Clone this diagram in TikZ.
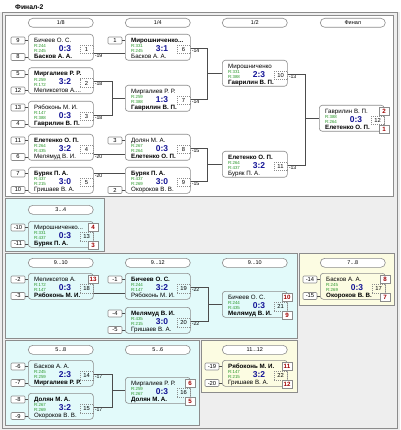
\documentclass[tikz,border=0pt]{standalone}
\usepackage{fontspec}
\setmainfont{Liberation Sans}
\definecolor{bggray}{RGB}{238,238,238}
\definecolor{framegray}{RGB}{140,140,140}
\definecolor{sectcyan}{RGB}{226,250,250}
\definecolor{sectyellow}{RGB}{252,252,226}
\definecolor{scoreblue}{RGB}{20,20,150}
\definecolor{ratinggreen}{RGB}{40,150,40}
\definecolor{placered}{RGB}{160,0,0}
\tikzset{section/.style={draw=framegray, line width=0.7pt}}
\tikzset{matchbox/.style={draw=framegray, line width=0.6pt, rounded corners=3pt, minimum width=65pt, minimum height=26pt, inner sep=0pt, anchor=north west}}
\tikzset{stagepill/.style={draw=framegray, fill=white, line width=0.6pt, rounded corners=4.5pt, minimum width=65pt, minimum height=9pt, inner sep=0pt, anchor=north west, font=\fontsize{5.5}{6}\selectfont}}
\tikzset{pname/.style={anchor=west, inner sep=0pt, font=\fontsize{6.2}{7}\selectfont}}
\tikzset{rating/.style={anchor=west, inner sep=0pt, text=ratinggreen, font=\fontsize{4.4}{5}\selectfont}}
\tikzset{score/.style={inner sep=0pt, text=scoreblue, font=\fontsize{8.5}{9}\selectfont\bfseries}}
\tikzset{numbox/.style={draw=framegray, dash pattern=on 1pt off 1pt, line width=0.5pt, minimum width=13pt, minimum height=8.5pt, inner sep=0pt, font=\fontsize{5.8}{6}\selectfont}}
\tikzset{seedbox/.style={draw=framegray, fill=white, line width=0.6pt, rounded corners=1pt, minimum width=14pt, minimum height=7pt, inner sep=0pt, font=\fontsize{5.8}{6}\selectfont}}
\tikzset{placebox/.style={draw=framegray, fill=white, line width=0.6pt, minimum width=10pt, minimum height=7.5pt, inner sep=0pt, text=placered, font=\fontsize{6.2}{7}\selectfont\bfseries}}
\tikzset{losslbl/.style={anchor=north west, inner sep=0pt, font=\fontsize{5.2}{6}\selectfont}}
\tikzset{link/.style={draw=black!70, line width=0.6pt}}

% game: name, x, y, player 1, rating 1, rating 2, score, player 2, number
\newcommand{\game}[9]{%
  \node[matchbox] (#1) at (#2,#3) {};
  \node[pname] (#1-a) at ([shift={(6,6.6)}]#1.north west) {#4};
  \node[rating] (#1-ra) at ([shift={(6,12.2)}]#1.north west) {R:#5};
  \node[rating] (#1-rb) at ([shift={(6,17.4)}]#1.north west) {R:#6};
  \node[score] (#1-s) at ([shift={(37,14.5)}]#1.north west) {#7};
  \node[pname] (#1-b) at ([shift={(6,22.6)}]#1.north west) {#8};
  \node[numbox] (#1-n) at ([shift={(58.5,15.5)}]#1.north west) {#9};
}
\newcommand{\seed}[4]{%
  \node[seedbox] (#1) at ([shift={(-10,#3)}]#2.north west) {#4};
  \draw[link] (#1.east) -- (#1.east -| #2.west);
}
\newcommand{\place}[4]{%
  \node[placebox] (#1) at ([shift={(65,#3)}]#2.north west) {#4};
}
\newcommand{\loss}[3]{%
  \coordinate (#1-o) at ([yshift=-#3pt]#1.north east);
  \node[losslbl] (#1-l) at ([xshift=1pt,yshift=-0.5pt]#1-o) {#2};
}

\begin{document}
\begin{tikzpicture}[x=1pt,y=-1pt]
\useasboundingbox (0,0) rectangle (400,430);
\fill[bggray] (0,0) rectangle (400,430);
\fill[white] (0,0) rectangle (400,12);
\node[anchor=west, inner sep=0pt, font=\fontsize{6.8}{7}\selectfont\bfseries] (title) at (15,7) {Финал-2};
\draw[section] (2.5,12) rectangle (397.5,428);
% panels
\draw[section, fill=white] (5,15) rectangle (393,196);
\draw[section, fill=sectcyan] (5,198) rectangle (104,251);
\draw[section, fill=sectcyan] (5,253) rectangle (297,338);
\draw[section, fill=sectyellow] (299,253) rectangle (394,305);
\draw[section, fill=sectcyan] (5,340) rectangle (199,425);
\draw[section, fill=sectyellow] (201,340) rectangle (297,392);

\node[stagepill] (s18) at (28,18) {1/8};
\node[stagepill] (s14) at (125,18) {1/4};
\node[stagepill] (s12) at (222,18) {1/2};
\node[stagepill] (sfin) at (320,18) {Финал};
\node[stagepill] (s34) at (28,205) {3...4};
\node[stagepill] (s910a) at (28,258) {9...10};
\node[stagepill] (s912) at (125,258) {9...12};
\node[stagepill] (s910b) at (222,258) {9...10};
\node[stagepill] (s78) at (320,258) {7...8};
\node[stagepill] (s58) at (28,345) {5...8};
\node[stagepill] (s56) at (125,345) {5...6};
\node[stagepill] (s1112) at (222,345) {11...12};

% main bracket
\game{m1}{28}{34}{Бичеев О. С.}{244}{245}{0:3}{\textbf{Басков А. А.}}{1}
\game{m2}{28}{67.5}{\textbf{Миргалиев Р. Р.}}{259}{172}{3:2}{Меликсетов А....}{2}
\game{m3}{28}{101}{Рябоконь М. И.}{147}{388}{0:3}{\textbf{Гаврилин В. П.}}{3}
\game{m4}{28}{134}{\textbf{Елетенко О. П.}}{264}{435}{3:2}{Мелямуд В. И.}{4}
\game{m5}{28}{167}{\textbf{Буряк П. А.}}{437}{215}{3:0}{Гришаев В. А.}{5}
\game{m6}{125}{34}{\textbf{Мирошниченко...}}{331}{245}{3:1}{Басков А. А.}{6}
\game{m7}{125}{85}{Миргалиев Р. Р.}{259}{388}{1:3}{\textbf{Гаврилин В. П.}}{7}
\game{m8}{125}{134}{Долян М. А.}{267}{264}{0:3}{\textbf{Елетенко О. П.}}{8}
\game{m9}{125}{167}{\textbf{Буряк П. А.}}{437}{269}{3:0}{Окороков В. В.}{9}
\game{m10}{222}{60}{Мирошниченко}{331}{388}{2:3}{\textbf{Гаврилин В. П.}}{10}
\game{m11}{222}{151}{\textbf{Елетенко О. П.}}{264}{437}{3:2}{Буряк П. А.}{11}
\game{m12}{319}{105}{Гаврилин В. П.}{388}{264}{0:3}{\textbf{Елетенко О. П.}}{12}

\seed{k9}{m1}{6.5}{9}
\seed{k8}{m1}{23}{8}
\seed{k5}{m2}{6.5}{5}
\seed{k12}{m2}{23}{12}
\seed{k13}{m3}{6.5}{13}
\seed{k4}{m3}{23}{4}
\seed{k11}{m4}{6.5}{11}
\seed{k6}{m4}{23}{6}
\seed{k7}{m5}{6.5}{7}
\seed{k10}{m5}{23}{10}
\seed{k1}{m6}{6.5}{1}
\seed{k3}{m8}{6.5}{3}
\seed{k2}{m9}{23}{2}

\loss{m1}{-19}{19}
\loss{m2}{-18}{14}
\loss{m3}{-18}{14}
\loss{m4}{-20}{20.5}
\loss{m5}{-20}{6.5}
\loss{m6}{-14}{14}
\loss{m7}{-14}{14}
\loss{m8}{-15}{14}
\loss{m9}{-15}{14}
\loss{m10}{-13}{14}
\loss{m11}{-13}{14}

\draw[link] (m1-o) -- (m1-o -| m6.west);
\draw[link] (m4-o) -- (m4-o -| m8.west);
\draw[link] (m5-o) -- (m5-o -| m9.west);
\draw[link] (m2-o) -- ++(19,0) coordinate (j7) |- (m3-o);
\draw[link] (j7 |- m7.west) -- (m7.west);
\draw[link] (m6-o) -- ++(17,0) coordinate (j10) |- (m7-o);
\draw[link] (j10 |- m10.west) -- (m10.west);
\draw[link] (m8-o) -- ++(17,0) coordinate (j11) |- (m9-o);
\draw[link] (j11 |- m11.west) -- (m11.west);
\draw[link] (m10-o) -- ++(18,0) coordinate (j12) |- (m11-o);
\draw[link] (j12 |- m12.west) -- (m12.west);
\place{p2}{m12}{6.5}{2}
\place{p1}{m12}{24.5}{1}

% 3...4
\game{m13}{28}{221}{Мирошниченко...}{331}{437}{0:3}{\textbf{Буряк П. А.}}{13}
\seed{q10}{m13}{6.5}{-10}
\seed{q11}{m13}{23}{-11}
\place{p4}{m13}{6.5}{4}
\place{p3}{m13}{24.5}{3}

% 9...12
\game{m18}{28}{273}{Меликсетов А.}{172}{147}{0:3}{\textbf{Рябоконь М. И.}}{18}
\game{m19}{125}{273}{\textbf{Бичеев О. С.}}{244}{147}{3:2}{Рябоконь М. И.}{19}
\game{m20}{125}{307}{\textbf{Мелямуд В. И.}}{435}{215}{3:0}{Гришаев В. А.}{20}
\game{m21}{222}{291}{Бичеев О. С.}{244}{435}{0:3}{\textbf{Мелямуд В. И.}}{21}
\seed{q2}{m18}{6.5}{-2}
\seed{q3}{m18}{23}{-3}
\seed{q1}{m19}{6.5}{-1}
\seed{q4}{m20}{6.5}{-4}
\seed{q5}{m20}{23}{-5}
\place{p13}{m18}{6.5}{13}
\coordinate (m18-o) at ([yshift=-20pt]m18.north east);
\draw[link] (m18-o) -- (m18-o -| m19.west);
\loss{m19}{-22}{14}
\loss{m20}{-22}{14}
\draw[link] (m19-o) -- ++(18,0) coordinate (j21) |- (m20-o);
\draw[link] (j21 |- m21.west) -- (m21.west);
\place{p10}{m21}{6.5}{10}
\place{p9}{m21}{24.5}{9}

% 7...8
\game{m17}{320}{273}{Басков А. А.}{245}{269}{0:3}{\textbf{Окороков В. В.}}{17}
\seed{q14}{m17}{6.5}{-14}
\seed{q15}{m17}{23}{-15}
\place{p8}{m17}{6.5}{8}
\place{p7}{m17}{24.5}{7}

% 5...8
\game{m14}{28}{360}{Басков А. А.}{245}{259}{2:3}{\textbf{Миргалиев Р. Р.}}{14}
\game{m15}{28}{393}{\textbf{Долян М. А.}}{267}{269}{3:2}{Окороков В. В.}{15}
\game{m16}{125}{377}{Миргалиев Р. Р.}{259}{267}{0:3}{\textbf{Долян М. А.}}{16}
\seed{q6}{m14}{6.5}{-6}
\seed{q7}{m14}{23}{-7}
\seed{q8}{m15}{6.5}{-8}
\seed{q9}{m15}{23}{-9}
\loss{m14}{-17}{14}
\loss{m15}{-17}{14}
\draw[link] (m14-o) -- ++(19,0) coordinate (j16) |- (m15-o);
\draw[link] (j16 |- m16.west) -- (m16.west);
\place{p6}{m16}{6.5}{6}
\place{p5}{m16}{24.5}{5}

% 11...12
\game{m22}{222}{360}{\textbf{Рябоконь М. И.}}{147}{215}{3:2}{Гришаев В. А.}{22}
\seed{q19}{m22}{6.5}{-19}
\seed{q20}{m22}{23}{-20}
\place{p11}{m22}{6.5}{11}
\place{p12}{m22}{24.5}{12}
\end{tikzpicture}
\end{document}
